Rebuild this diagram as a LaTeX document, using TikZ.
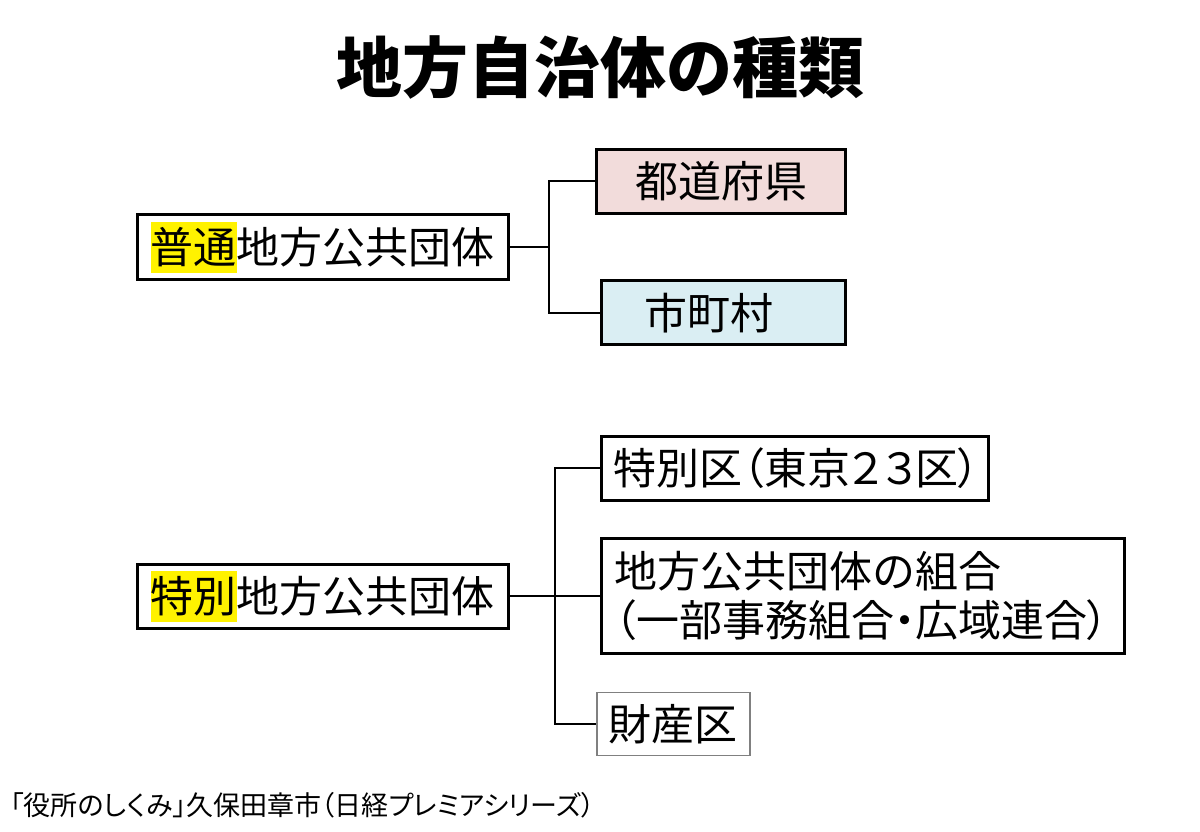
\documentclass[tikz,border=0pt]{standalone}
\usepackage{xcolor}
\usepackage{fontspec}
\setmainfont{Noto Sans CJK JP}
\newfontfamily\jpprop{Noto Sans CJK JP}[RawFeature=+palt]
\usepackage{tikz}

\definecolor{pinkbox}{HTML}{F2DCDB}
\definecolor{bluebox}{HTML}{DAEEF3}
\newcommand{\marker}[1]{{\setlength{\fboxsep}{0pt}\colorbox{yellow}{\rule[-4.5pt]{0pt}{25.5pt}#1}}}

\begin{document}
\begin{tikzpicture}[x=0.5pt,y=0.5pt,grow'=right,
    every node/.style={font=\fontsize{21.5}{24.5}\selectfont,inner sep=0pt},
    box/.style={draw,line width=1.5pt,minimum height=32pt,fill=white},
    every child node/.style={anchor=west},
    edge from parent/.style={draw,line width=1pt},
    elbow/.style={edge from parent path={(\tikzparentnode.east) -- +(#1,0) |- (\tikzchildnode.west)}}]
  \useasboundingbox (0,0) rectangle (1200,-831);
  \node (title) at (600,-68) {\fontsize{33}{36}\selectfont\bfseries 地方自治体の種類};

  \node[box,minimum width=185.5pt,minimum height=32.5pt] (futsu) at (322.5,-247) {\marker{普通}地方公共団体}
    child[elbow=19.5pt,level distance=136.25pt,sibling distance=65.75pt]{node[box,fill=pinkbox,minimum width=124.5pt] (todofuken) {都道府県}}
    child[elbow=19.5pt,level distance=138.75pt,sibling distance=65.75pt]{node[box,fill=bluebox,text width=79pt,inner xsep=21.5pt,align=left] (shichoson) {市町村}};

  \node[box,minimum width=185.5pt] (tokubetsu) at (322.5,-596) {\marker{特別}地方公共団体}
    child[elbow=22.5pt,level distance=138.75pt,sibling distance=64pt]{node[box,text width=181.5pt,inner xsep=6pt,align=left] (tokubetsuku) {\jpprop 特別区（東京２３区）}}
    child[elbow=22.5pt,level distance=138.75pt,sibling distance=64pt]{node[box,text width=248.5pt,inner xsep=6.5pt,minimum height=57.5pt,align=left] (kumiai) {地方公共団体の組合\\{\jpprop（一部事務組合・広域連合）}}}
    child[elbow=22.5pt,level distance=136.75pt,sibling distance=64pt]{node[box,draw=gray,line width=0.75pt,minimum width=76.5pt,minimum height=31.5pt] (zaisanku) {財産区}};

  \node[anchor=west] (source) at (10,-805) {\fontsize{13.5}{15}\selectfont\jpprop 「役所のしくみ」久保田章市（日経プレミアシリーズ）};
\end{tikzpicture}
\end{document}
